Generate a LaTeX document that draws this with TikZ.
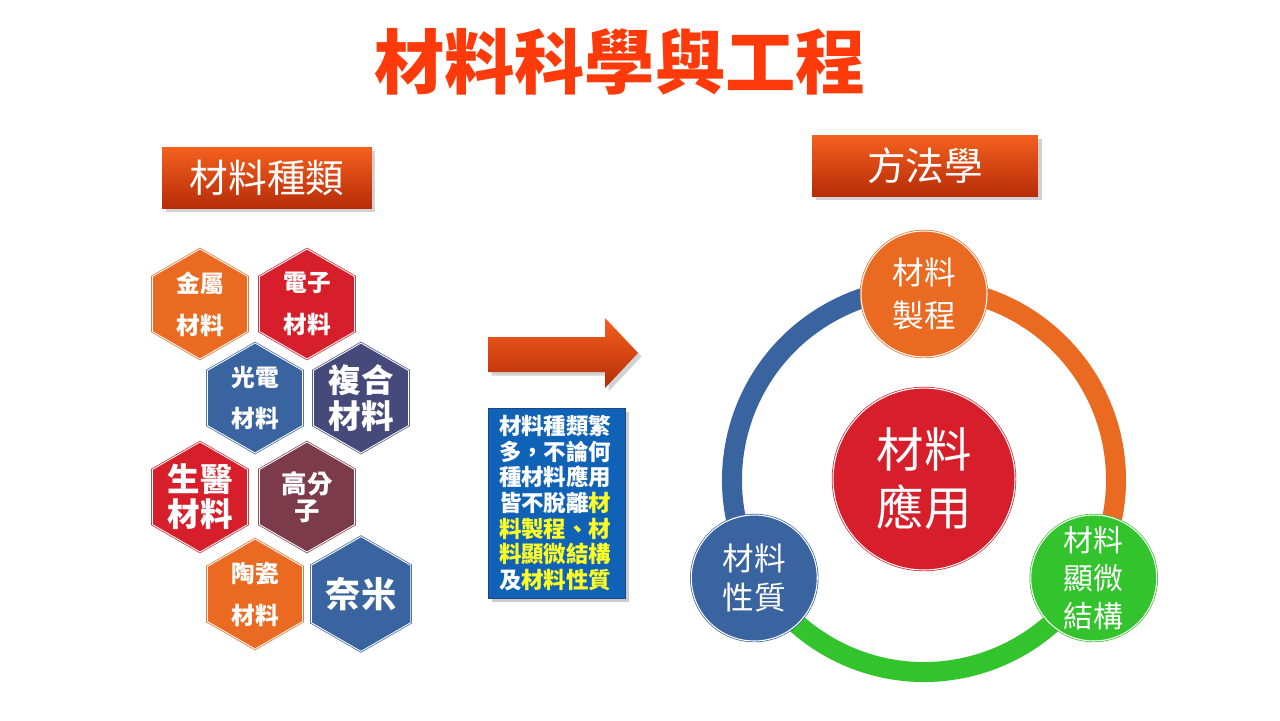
\documentclass[tikz,border=0pt]{standalone}
\usepackage{fontspec}
\setmainfont{Noto Sans CJK TC}
\usetikzlibrary{positioning,calc,shapes.geometric,shadows}

\definecolor{matorange}{RGB}{233,106,32}
\definecolor{matred}{RGB}{215,31,43}
\definecolor{matblue}{RGB}{58,100,160}
\definecolor{matslate}{RGB}{70,74,122}
\definecolor{matmaroon}{RGB}{124,59,75}
\definecolor{matgreen}{RGB}{50,195,45}
\definecolor{notebl}{RGB}{16,98,182}
\definecolor{noteedge}{RGB}{30,70,130}
\definecolor{hiyellow}{RGB}{255,255,40}
\definecolor{titlered}{RGB}{255,58,10}
\definecolor{headtop}{RGB}{244,96,30}
\definecolor{headbot}{RGB}{182,44,8}

\begin{document}
\begin{tikzpicture}[x=0.02cm,y=-0.02cm,
    hexa/.style={regular polygon,regular polygon sides=6,shape border rotate=30,
        minimum size=2.2cm,inner sep=0pt,draw=#1,fill=#1,double=white,double distance=0.5pt,
        text=white,align=center,font=\bfseries\fontsize{13.5}{23.8}\selectfont},
    header/.style={minimum height=1.22cm,top color=headtop,bottom color=headbot,
        drop shadow={shadow xshift=2pt,shadow yshift=-2pt,opacity=0.35},
        text=white,font=\fontsize{22}{24}\selectfont},
    ball/.style={circle,inner sep=0pt,minimum size=2.52cm,draw=#1,fill=#1,
        double=white,double distance=0.6pt,text=white,align=center,
        font=\fontsize{18}{25}\selectfont},
    ringarc/.style={line width=0.4cm,draw=#1}]

    \useasboundingbox[fill=white] (0,0) rectangle (1280,720);

    % title
    \node[text=titlered,font=\bfseries\fontsize{40}{44}\selectfont] (title) at (620,62) {材料科學與工程};

    % left: kinds of materials
    \node[header,minimum width=4.2cm] (kinds) at (267,178) {材料種類};

    \node[hexa=matorange] (metal) at (200,304) {金屬\\材料};
    \node[hexa=matred] (elec) at (307,304) {電子\\材料};
    \node[hexa=matblue] (opto) at (255,398) {光電\\材料};
    \node[hexa=matslate,font=\bfseries\fontsize{18.5}{20}\selectfont] (comp) at (361,398) {複合\\材料};
    \node[hexa=matred,font=\bfseries\fontsize{18.5}{20}\selectfont] (bio) at (200,497) {生醫\\材料};
    \node[hexa=matmaroon,font=\bfseries\fontsize{14.5}{15.5}\selectfont] (poly) at (307,497) {高分\\子};
    \node[hexa=matorange] (ceram) at (255,594) {陶瓷\\材料};
    \node[hexa=matblue,font=\bfseries\fontsize{20}{22}\selectfont] (nano) at (361,594) {奈米};

    % middle
    \path[top color=headtop,bottom color=headbot,
        drop shadow={shadow xshift=2pt,shadow yshift=-2pt,opacity=0.35}]
        (488,337) -- (605,337) -- (605,318) -- (638,353) -- (605,388) -- (605,372) -- (488,372) -- cycle;

    \node[draw=noteedge,fill=notebl,minimum width=2.74cm,minimum height=3.8cm,
        text width=2.32cm,align=left,text=white,
        drop shadow={shadow xshift=2pt,shadow yshift=-2pt,opacity=0.4},
        font=\bfseries\fontsize{12.8}{14.6}\selectfont] (note) at (557,503)
        {材料種類繁\\多，不論何\\種材料應用\\皆不脫離\textcolor{hiyellow}{材}\\
        \textcolor{hiyellow}{料製程、材}\\\textcolor{hiyellow}{料顯微結構}\\及\textcolor{hiyellow}{材料性質}};

    % right: methodology
    \node[header,minimum width=4.52cm] (method) at (925,166) {方法學};

    \coordinate (ring) at (924,480);
    \draw[ringarc=matorange] ($(ring)+(-90:192)$) arc[start angle=-90,end angle=30,radius=192];
    \draw[ringarc=matgreen] ($(ring)+(30:192)$) arc[start angle=30,end angle=150,radius=192];
    \draw[ringarc=matblue] ($(ring)+(150:192)$) arc[start angle=150,end angle=270,radius=192];

    \node[ball=matorange] (proc) at ($(ring)+(-90:186)$) {材料\\製程};
    \node[ball=matgreen,font=\fontsize{17}{21.5}\selectfont] (micro) at ($(ring)+(30:196)$) {材料\\顯微\\結構};
    \node[ball=matblue,font=\fontsize{18}{22}\selectfont] (prop) at ($(ring)+(150:196)$) {材料\\性質};
    \node[ball=matred,minimum size=3.64cm,font=\fontsize{27}{33}\selectfont] (appl) at (924,479) {材料\\應用};
\end{tikzpicture}
\end{document}
